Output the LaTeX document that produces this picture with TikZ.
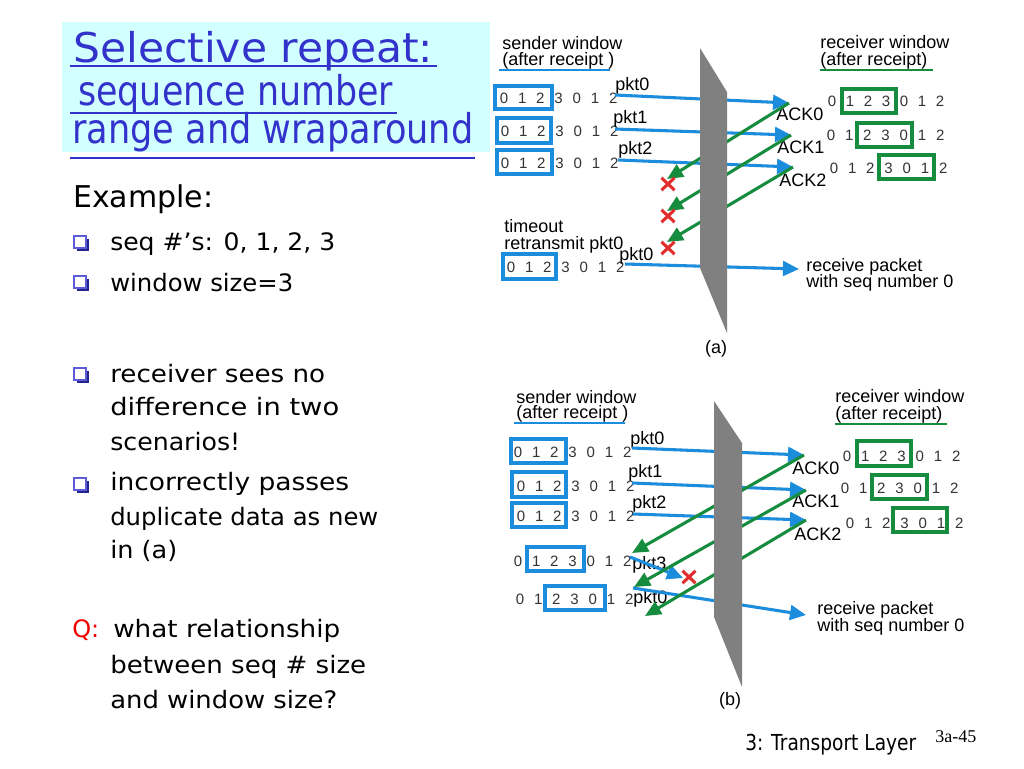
\documentclass[tikz,border=0pt]{standalone}
\usepackage{fontspec}
\setmainfont{DejaVu Sans}
\newfontfamily\labfont{Liberation Sans}
\newfontfamily\serfont{Liberation Serif}
\usetikzlibrary{arrows.meta,shapes.misc,shadows}
\definecolor{titleblue}{RGB}{51,51,204}
\definecolor{titlebg}{RGB}{210,255,255}
\definecolor{pblue}{RGB}{28,141,220}
\definecolor{agreen}{RGB}{22,140,62}
\definecolor{xred}{RGB}{225,45,45}
\definecolor{wallgray}{RGB}{128,128,128}
\definecolor{qred}{RGB}{240,0,0}
\newcommand\fitw[2]{\resizebox{#1}{\height}{#2}}
\newcommand\seqrow[4]{%
  \foreach \d [count=\i] in {0,1,2,3,0,1,2}{\node[dig] (#1-\i) at ({#2+#4*(\i-1)},#3) {\d};}}
\tikzset{
  ttl/.style={anchor=base west, inner sep=0pt, text=titleblue, font=\fontsize{30.75pt}{36pt}\selectfont},
  tul/.style={draw=titleblue, line width=1.9pt},
  bodytxt/.style={anchor=base west, inner sep=0pt, font=\fontsize{18pt}{22pt}\selectfont},
  bigtxt/.style={anchor=base west, inner sep=0pt, font=\fontsize{22.5pt}{26pt}\selectfont},
  bul/.style={draw=titleblue!80, fill=white, line width=0.8pt, minimum size=9pt, inner sep=0pt,
    drop shadow={shadow xshift=2pt, shadow yshift=-2pt, fill=titleblue!70!black, opacity=1}},
  lab/.style={anchor=base west, inner sep=0pt, font=\labfont\fontsize{13.5pt}{16pt}\selectfont},
  capt/.style={anchor=base, inner sep=0pt, font=\labfont\fontsize{13.5pt}{16pt}\selectfont},
  dig/.style={inner sep=0pt, font=\labfont\fontsize{11.25pt}{13pt}\selectfont, text=black!80},
  sbox/.style={draw=pblue, line width=2.8pt},
  rbox/.style={draw=agreen, line width=2.5pt},
  sul/.style={draw=pblue, line width=2pt},
  rul/.style={draw=agreen, line width=2pt},
  pktarrow/.style={draw=pblue, line width=2.3pt, -{Triangle[length=12pt,width=11pt]}},
  ackarrow/.style={draw=agreen, line width=2.3pt, -{Triangle[length=12pt,width=10.5pt]}},
  lossx/.style={cross out, draw=xred, line width=2.3pt, inner sep=0pt, minimum width=7.5pt, minimum height=7pt},
  wall/.style={fill=wallgray, draw=none},
  foot/.style={anchor=base west, inner sep=0pt, font=\fontsize{16.5pt}{20pt}\selectfont},
  footnum/.style={anchor=base west, inner sep=0pt, font=\serfont\fontsize{13.5pt}{16pt}\selectfont}
}
\begin{document}
\begin{tikzpicture}[x=0.75pt,y=-0.75pt]
\useasboundingbox (0,0) rectangle (1024,768);
\fill[white] (0,0) rectangle (1024,768);

% ---------------- title ----------------
\fill[titlebg] (62,22) rectangle (490,152);
\node[ttl] (t1) at (73,62) {\fitw{270pt}{Selective repeat:}};
\node[ttl] (t2) at (78,105.5) {\fitw{236.25pt}{sequence number}};
\node[ttl] (t3) at (72,143) {\fitw{300.75pt}{range and wraparound}};
\draw[tul] (70,66) -- (437,66);
\draw[tul] (70,113) -- (397,113);
\draw[tul] (70,158) -- (475,158);

% ---------------- left text ----------------
\node[bigtxt] (ex) at (73,207) {Example:};
\node[bul] (b1) at (80,242) {};
\node[bul] (b2) at (80,282) {};
\node[bul] (b3) at (80,374) {};
\node[bul] (b4) at (80,484) {};
\node[bodytxt] (l1) at (110,250) {\fitw{168.75pt}{seq \#’s: 0, 1, 2, 3}};
\node[bodytxt] (l2) at (110,291) {\fitw{137.25pt}{window size=3}};
\node[bodytxt] (l3) at (110,382) {\fitw{161.25pt}{receiver sees no}};
\node[bodytxt] (l4) at (110,415) {\fitw{171.75pt}{difference in two}};
\node[bodytxt] (l5) at (110,450) {\fitw{97.5pt}{scenarios!}};
\node[bodytxt] (l6) at (110,490) {\fitw{179.25pt}{incorrectly passes}};
\node[bodytxt] (l7) at (110,525) {\fitw{201pt}{duplicate data as new}};
\node[bodytxt] (l8) at (110,558) {\fitw{50.25pt}{in (a)}};
\node[bodytxt, text=qred] (q) at (72,637) {Q:};
\node[bodytxt] (l9) at (113,637) {\fitw{170.25pt}{what relationship}};
\node[bodytxt] (l10) at (110,673) {\fitw{192pt}{between seq \# size}};
\node[bodytxt] (l11) at (110,708) {\fitw{170.25pt}{and window size?}};

% ---------------- footer ----------------
\node[foot] (ft) at (745,750) {\fitw{128.25pt}{3: Transport Layer}};
\node[footnum] (fn) at (935,742) {3a-45};

% ================= diagram (a) =================
\node[lab] (as1) at (502,49) {sender window};
\node[lab] (as2) at (502,65) {(after receipt )};
\draw[sul] (499,70) -- (610,70);
\node[lab] (ar1) at (820,48) {receiver window};
\node[lab] (ar2) at (820,65) {(after receipt)};
\draw[rul] (820,70) -- (933,70);

\seqrow{sa1}{504}{98}{18.2}
\seqrow{sa2}{505}{131}{18.2}
\seqrow{sa3}{505}{163}{18.2}
\seqrow{sa4}{511}{267}{18.2}
\draw[sbox] (495,86) rectangle (552,109);
\draw[sbox] (497,118) rectangle (551,143);
\draw[sbox] (497,150) rectangle (552,174);
\draw[sbox] (503,254) rectangle (556,279);

\seqrow{ra1}{832}{101}{18}
\seqrow{ra2}{831}{135}{18.2}
\seqrow{ra3}{834}{168}{18.2}
\draw[rbox] (842,89) rectangle (896,113);
\draw[rbox] (857,123) rectangle (912,147);
\draw[rbox] (879,155) rectangle (934,179);

\node[lab] (apk0) at (615,90) {pkt0};
\node[lab] (apk1) at (613,123) {pkt1};
\node[lab] (apk2) at (618,154) {pkt2};
\node[lab] (aack0) at (776,120) {ACK0};
\node[lab] (aack1) at (777,153) {ACK1};
\node[lab] (aack2) at (779,186) {ACK2};
\node[lab] (ato1) at (504,232) {timeout};
\node[lab] (ato2) at (504,249) {retransmit pkt0};
\node[lab] (apk0r) at (619,260) {pkt0};
\node[lab] (arc1) at (806,271) {receive packet};
\node[lab] (arc2) at (806,287) {with seq number 0};
\node[capt] (acap) at (716,353) {(a)};

\coordinate (a-p0s) at (615,95);  \coordinate (a-p0e) at (789,103);
\coordinate (a-p1s) at (615,129); \coordinate (a-p1e) at (791,135);
\coordinate (a-p2s) at (618,160); \coordinate (a-p2e) at (793,167);
\coordinate (a-p3s) at (625,264); \coordinate (a-p3e) at (799,269);
\coordinate (a-k0e) at (667,179); \coordinate (a-k1e) at (667,211); \coordinate (a-k2e) at (667,242);
\draw[pktarrow] (a-p0s) -- (a-p0e);
\draw[pktarrow] (a-p1s) -- (a-p1e);
\draw[pktarrow] (a-p2s) -- (a-p2e);
\draw[pktarrow] (a-p3s) -- (a-p3e);
\draw[ackarrow] (a-p0e) -- (a-k0e);
\draw[ackarrow] (a-p1e) -- (a-k1e);
\draw[ackarrow] (a-p2e) -- (a-k2e);
\fill[wall] (700,48) -- (727,92) -- (727,333) -- (700,268) -- cycle;
\node[lossx] (ax1) at (668,184) {};
\node[lossx] (ax2) at (668,216) {};
\node[lossx] (ax3) at (668,248) {};

% ================= diagram (b) =================
\node[lab] (bs1) at (516,403) {sender window};
\node[lab] (bs2) at (516,418) {(after receipt )};
\draw[sul] (514,423) -- (625,423);
\node[lab] (br1) at (835,402) {receiver window};
\node[lab] (br2) at (835,419) {(after receipt)};
\draw[rul] (835,424) -- (947,424);

\seqrow{sb1}{518}{452}{18.2}
\seqrow{sb2}{521}{486}{18.2}
\seqrow{sb3}{521}{516}{18.2}
\seqrow{sb4}{518}{561}{18.2}
\seqrow{sb5}{520}{599}{18.2}
\draw[sbox] (511,439) rectangle (566,463);
\draw[sbox] (512,472) rectangle (566,497);
\draw[sbox] (512,503) rectangle (566,527);
\draw[sbox] (527,547) rectangle (584,571);
\draw[sbox] (545,586) rectangle (605,610);

\seqrow{rb1}{847}{456}{18.2}
\seqrow{rb2}{845}{488}{18.2}
\seqrow{rb3}{850}{523}{18.2}
\draw[rbox] (857,441) rectangle (911,466);
\draw[rbox] (872,475) rectangle (927,499);
\draw[rbox] (893,508) rectangle (947,532);

\node[lab] (bpk0) at (630,444) {pkt0};
\node[lab] (bpk1) at (628,477) {pkt1};
\node[lab] (bpk2) at (632,508) {pkt2};
\node[lab] (bpk3) at (632,569) {pkt3};
\node[lab] (bpk0r) at (633,603) {pkt0};
\node[lab] (back0) at (792,474) {ACK0};
\node[lab] (back1) at (792,507) {ACK1};
\node[lab] (back2) at (794,540) {ACK2};
\node[lab] (brc1) at (817,614) {receive packet};
\node[lab] (brc2) at (817,631) {with seq number 0};
\node[capt] (bcap) at (730,705) {(b)};

\coordinate (b-p0s) at (632,448); \coordinate (b-p0e) at (804,455);
\coordinate (b-p1s) at (632,483); \coordinate (b-p1e) at (806,490);
\coordinate (b-p2s) at (633,514); \coordinate (b-p2e) at (806,520);
\coordinate (b-p3s) at (630,557); \coordinate (b-p3e) at (683,578);
\coordinate (b-p4s) at (633,588); \coordinate (b-p4e) at (806,615);
\coordinate (b-k0e) at (632,553); \coordinate (b-k1e) at (634,587); \coordinate (b-k2e) at (645,616);
\draw[pktarrow] (b-p0s) -- (b-p0e);
\draw[pktarrow] (b-p1s) -- (b-p1e);
\draw[pktarrow] (b-p2s) -- (b-p2e);
\draw[pktarrow] (b-p3s) -- (b-p3e);
\draw[pktarrow] (b-p4s) -- (b-p4e);
\draw[ackarrow] (b-p0e) -- (b-k0e);
\draw[ackarrow] (b-p1e) -- (b-k1e);
\draw[ackarrow] (b-p2e) -- (b-k2e);
\fill[wall] (714,401) -- (742,443) -- (742,687) -- (714,617) -- cycle;
\node[lossx] (bx1) at (689,577) {};
\end{tikzpicture}
\end{document}
